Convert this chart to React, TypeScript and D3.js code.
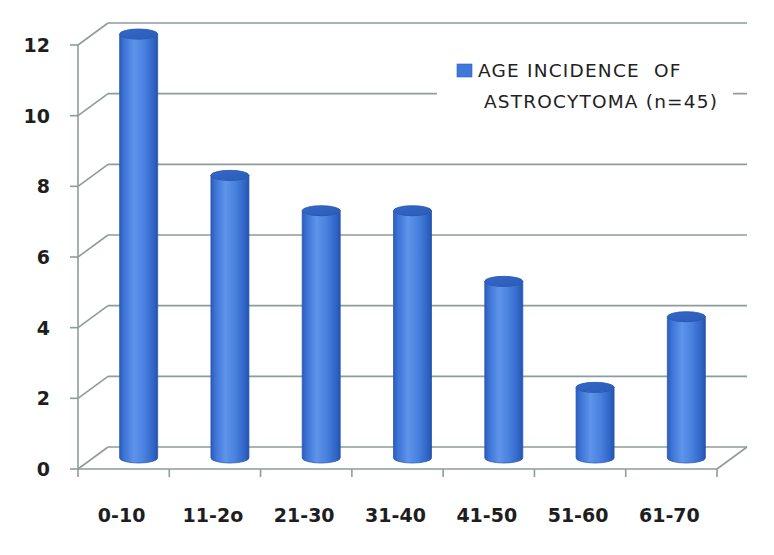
import React from "react";
import * as d3 from "d3";

const categories = ["0-10", "11-2o", "21-30", "31-40", "41-50", "51-60", "61-70"];
const values = [12, 8, 7, 7, 5, 2, 4];
const yTicks = [0, 2, 4, 6, 8, 10, 12];
const legendLines = ["AGE INCIDENCE  OF", "ASTROCYTOMA (n=45)"];

const W = 774;
const H = 555;
const left = 78;
const right = 717;
const floorY = 469;
const topY = 45;
const DX = 30;
const DY = -22;
const axisColor = "#8e9c9a";

export default function App() {
  const y = d3.scaleLinear().domain([0, 12]).range([floorY, topY]);
  const x = d3.scaleBand<string>().domain(categories).range([left, right]).padding(0);
  const rx = 19;
  const ry = 5;
  const depth = 0.5;

  return (
    <svg
      width={W}
      height={H}
      style={{ position: "absolute", left: 0, top: 0, background: "#fff" }}
      fontFamily="DejaVu Sans"
    >
      <defs>
        <linearGradient id="cyl" x1="0" x2="1" y1="0" y2="0">
          <stop offset="0" stopColor="#2a5cbc" />
          <stop offset="0.12" stopColor="#3d74d6" />
          <stop offset="0.38" stopColor="#5e94ea" />
          <stop offset="0.65" stopColor="#4880de" />
          <stop offset="0.9" stopColor="#2f64c4" />
          <stop offset="1" stopColor="#2453ac" />
        </linearGradient>
        <linearGradient id="cap" x1="0" x2="1" y1="0" y2="1">
          <stop offset="0" stopColor="#3468c8" />
          <stop offset="1" stopColor="#2b5cb8" />
        </linearGradient>
      </defs>

      {yTicks.map((t) => (
        <g key={t} stroke={axisColor} strokeWidth={1.6} fill="none">
          <line x1={left} y1={y(t)} x2={left + DX} y2={y(t) + DY} />
          <line x1={left + DX} y1={y(t) + DY} x2={right + DX} y2={y(t) + DY} />
          <line x1={left - 8} y1={y(t)} x2={left} y2={y(t)} />
        </g>
      ))}
      <line x1={left} y1={y(12)} x2={left} y2={floorY} stroke={axisColor} strokeWidth={1.6} />
      <line x1={left} y1={floorY} x2={right} y2={floorY} stroke={axisColor} strokeWidth={1.6} />
      <line x1={right} y1={floorY} x2={right + DX} y2={floorY + DY} stroke={axisColor} strokeWidth={1.6} />
      {d3.range(categories.length + 1).map((i) => {
        const px = left + x.step() * i;
        return <line key={i} x1={px} y1={floorY} x2={px} y2={floorY + 8} stroke={axisColor} strokeWidth={1.6} />;
      })}

      <rect x={437} y={52} width={296} height={66} fill="#fff" />

      {values.map((v, i) => {
        const cx = (x(categories[i]) as number) + x.bandwidth() / 2 + DX * depth;
        const yb = y(0) + DY * depth;
        const yt = y(v) + DY * depth;
        const body = `M${cx - rx},${yt} L${cx - rx},${yb} A${rx},${ry} 0 0 0 ${cx + rx},${yb} L${cx + rx},${yt} A${rx},${ry} 0 0 1 ${cx - rx},${yt} Z`;
        return (
          <g key={i}>
            <path d={body} fill="url(#cyl)" stroke="#2a58b0" strokeWidth={0.8} />
            <ellipse cx={cx} cy={yt} rx={rx} ry={ry} fill="url(#cap)" stroke="#2756b0" strokeWidth={0.8} />
          </g>
        );
      })}

      {yTicks.map((t) => (
        <text key={t} x={50} y={y(t)} dy="0.36em" textAnchor="end" fontSize={19} fontWeight="bold" fill="#1e1e1e">
          {t}
        </text>
      ))}

      {categories.map((c) => (
        <text
          key={c}
          x={(x(c) as number) + x.bandwidth() / 2 - 2}
          y={522}
          textAnchor="middle"
          fontSize={19}
          fontWeight="bold"
          fill="#1e1e1e"
        >
          {c}
        </text>
      ))}

      <rect x={457} y={64} width={15} height={13} fill="#3f78d8" stroke="#2c5fb8" strokeWidth={0.6} />
      <text x={478} y={77} fontSize={18.5} fill="#222" letterSpacing={1.2} style={{ whiteSpace: "pre" }}>
        {legendLines[0]}
      </text>
      <text x={484} y={108} fontSize={18.5} fill="#222" letterSpacing={1.2} style={{ whiteSpace: "pre" }}>
        {legendLines[1]}
      </text>
    </svg>
  );
}
